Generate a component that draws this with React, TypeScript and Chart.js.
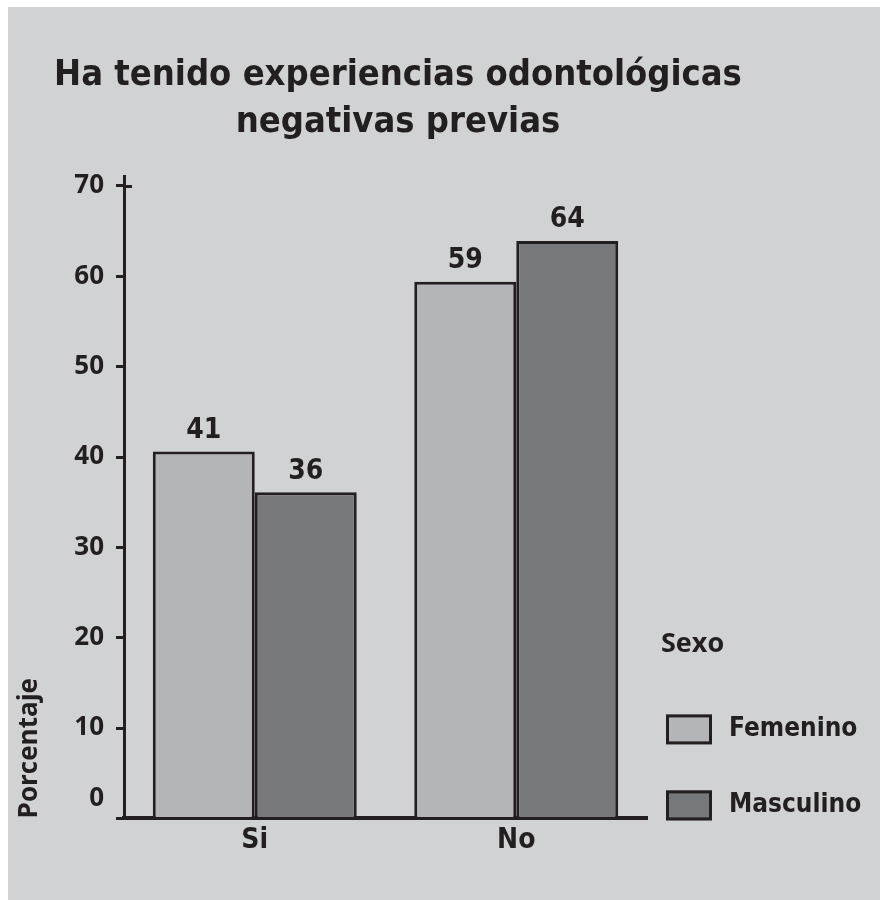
import React, { useEffect, useRef } from "react";
import { Chart, registerables } from "chart.js";

Chart.register(...registerables);

// ---- data ----
const categories = ["Si", "No"];
const seriesNames = ["Femenino", "Masculino"];
const femenino = [40.6, 59.4];
const masculino = [36.1, 63.9];
const titleLines = ["Ha tenido experiencias odontológicas", "negativas previas"];
const yAxisTitle = "Porcentaje";
const legendTitle = "Sexo";
const yMin = 0;
const yMax = 71;
const yStep = 10;

// ---- styles ----
const BG = "#d1d2d4";
const FEM = "#b4b5b9";
const MASC = "#77787b";
const INK = "#231f20";
const COND = "'Liberation Sans Narrow', 'DejaVu Sans Condensed', 'Arial Narrow', sans-serif";
const WIDE = "'Open Sans', 'DejaVu Sans', sans-serif";
const TICK_FONT = { family: WIDE, weight: "bold", size: 26 };

const valueLabelsPlugin = {
  id: "valueLabels",
  afterDatasetsDraw(chart: any) {
    const ctx = chart.ctx;
    ctx.save();
    ctx.font = `bold 28px ${COND}`;
    ctx.fillStyle = INK;
    ctx.textAlign = "center";
    ctx.textBaseline = "middle";
    chart.data.datasets.forEach((ds: any, i: number) => {
      const meta = chart.getDatasetMeta(i);
      meta.data.forEach((el: any, j: number) => {
        const v = ds.data[j];
        ctx.fillText(String(Math.round(v)), el.x, el.y - 21);
      });
    });
    ctx.restore();
  },
};

const sideLegendPlugin = {
  id: "sideLegend",
  afterDraw(chart: any) {
    const ctx = chart.ctx;
    const area = chart.chartArea;
    const x0 = area.right + 19;
    ctx.save();
    ctx.fillStyle = INK;
    ctx.textBaseline = "middle";
    ctx.textAlign = "left";
    ctx.font = `bold 27px ${WIDE}`;
    ctx.fillText(legendTitle, area.right + 14, area.bottom - 174);
    const tops = [area.bottom - 104, area.bottom - 28];
    chart.data.datasets.forEach((ds: any, i: number) => {
      const top = tops[i];
      const w = 46;
      const h = 30;
      ctx.fillStyle = ds.backgroundColor;
      ctx.fillRect(x0, top, w, h);
      ctx.strokeStyle = INK;
      ctx.lineWidth = 3;
      ctx.strokeRect(x0 + 1.5, top + 1.5, w - 3, h - 3);
      ctx.fillStyle = INK;
      ctx.font = `bold 26px ${COND}`;
      ctx.fillText(ds.label, x0 + 63, top + h / 2);
    });
    ctx.restore();
  },
};

// extra axis decorations: top tick crossing the axis, and the raised "0" label
const axisDecorPlugin = {
  id: "axisDecor",
  afterDraw(chart: any) {
    const y = chart.scales.y;
    const ctx = chart.ctx;
    const py = Math.round(y.getPixelForValue(yMax - 1)) + 0.5;
    ctx.save();
    ctx.strokeStyle = INK;
    ctx.lineWidth = 3;
    ctx.beginPath();
    ctx.moveTo(chart.chartArea.left, py);
    ctx.lineTo(chart.chartArea.left + 8, py);
    ctx.stroke();
    ctx.fillStyle = INK;
    ctx.font = `bold ${TICK_FONT.size}px ${WIDE}`;
    ctx.textAlign = "right";
    ctx.textBaseline = "middle";
    ctx.fillText(String(yMin), chart.chartArea.left - 20, y.getPixelForValue(yMin) - 20);
    ctx.restore();
  },
};

export default function App() {
  const canvasRef = useRef<HTMLCanvasElement | null>(null);

  useEffect(() => {
    if (!canvasRef.current) return;
    const chart = new Chart(canvasRef.current, {
      type: "bar",
      data: {
        labels: categories,
        datasets: [
          {
            label: seriesNames[0],
            data: femenino,
            backgroundColor: FEM,
            borderColor: INK,
            borderWidth: 3,
            xAxisID: "x",
            yAxisID: "y",
          },
          {
            label: seriesNames[1],
            data: masculino,
            backgroundColor: MASC,
            borderColor: INK,
            borderWidth: 3,
            xAxisID: "x",
            yAxisID: "y",
          },
        ],
      },
      options: {
        animation: false,
        responsive: true,
        maintainAspectRatio: false,
        datasets: {
          bar: { barPercentage: 1, categoryPercentage: 0.78 },
        },
        layout: { padding: { left: 0, right: 92, top: 0, bottom: 36 } },
        plugins: {
          legend: { display: false },
          tooltip: { enabled: false },
          title: {
            display: true,
            text: titleLines,
            color: INK,
            align: "center",
            font: { family: COND, weight: "bold", size: 36, lineHeight: 1.305 },
            padding: { top: 45, bottom: 31 },
          },
        },
        scales: {
          x: {
            grid: { display: false, drawTicks: false },
            border: { display: true, color: INK, width: 4 },
            ticks: {
              color: INK,
              font: { family: COND, weight: "bold", size: 28 },
              padding: 6,
            },
          },
          y: {
            min: yMin,
            max: yMax,
            ticks: {
              stepSize: yStep,
              includeBounds: false,
              color: INK,
              font: TICK_FONT,
              padding: 12,
              callback: (v: any) => (v === yMin ? "" : String(v)),
            },
            grid: {
              display: true,
              drawOnChartArea: false,
              drawTicks: true,
              tickLength: 8,
              color: INK,
              lineWidth: 3,
            },
            border: { display: true, color: INK, width: 3 },
            title: {
              display: true,
              text: yAxisTitle,
              align: "start",
              color: INK,
              font: { family: WIDE, weight: "bold", size: 26 },
              padding: { top: 6, bottom: 0 },
            },
            afterFit(s: any) {
              s.width = 116;
            },
          },
          pad: {
            type: "linear",
            position: "right",
            display: true,
            grid: { display: false, drawTicks: false },
            border: { display: false },
            ticks: { display: false },
            afterFit(s: any) {
              s.width = 141;
            },
          },
        },
      } as any,
      plugins: [valueLabelsPlugin, sideLegendPlugin, axisDecorPlugin],
    });
    return () => chart.destroy();
  }, []);

  return (
    <div
      style={{
        position: "fixed",
        left: 8,
        top: 7,
        width: 872,
        height: 893,
        background: BG,
      }}
    >
      <canvas ref={canvasRef} />
    </div>
  );
}
